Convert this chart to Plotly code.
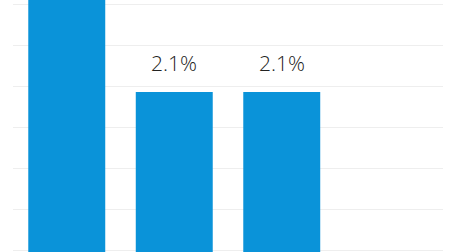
import plotly.graph_objects as go

categories = ["A", "B", "C", "D"]
values = [3.6, 2.1, 2.1, None]
labels = ["", "2.1%", "2.1%", ""]

bar_color = "#0A93D9"

fig = go.Figure()
fig.add_trace(go.Bar(
    x=categories, y=values,
    marker=dict(color=bar_color, line=dict(width=0)),
    hoverinfo="skip",
))

for c, v, t in zip(categories, values, labels):
    if v is not None and t:
        fig.add_annotation(
            x=c, y=v, text=t, showarrow=False,
            xanchor="center", yanchor="bottom", yshift=13,
            font=dict(family="Open Sans", size=21, color="#222222", weight=300),
        )

fig.update_layout(
    width=449, height=252,
    margin=dict(l=13, r=6, t=0, b=0),
    paper_bgcolor="white", plot_bgcolor="white",
    bargap=0.284,
    showlegend=False,
    xaxis=dict(showticklabels=False, showgrid=False, zeroline=False,
               showline=False, ticks=""),
    yaxis=dict(range=[0.1488, 3.222], tick0=0.1732, dtick=0.5,
               showticklabels=False, showgrid=True, gridcolor="#EEEEEE",
               gridwidth=1, zeroline=False, showline=False, ticks=""),
)

fig.write_html("out.html")
